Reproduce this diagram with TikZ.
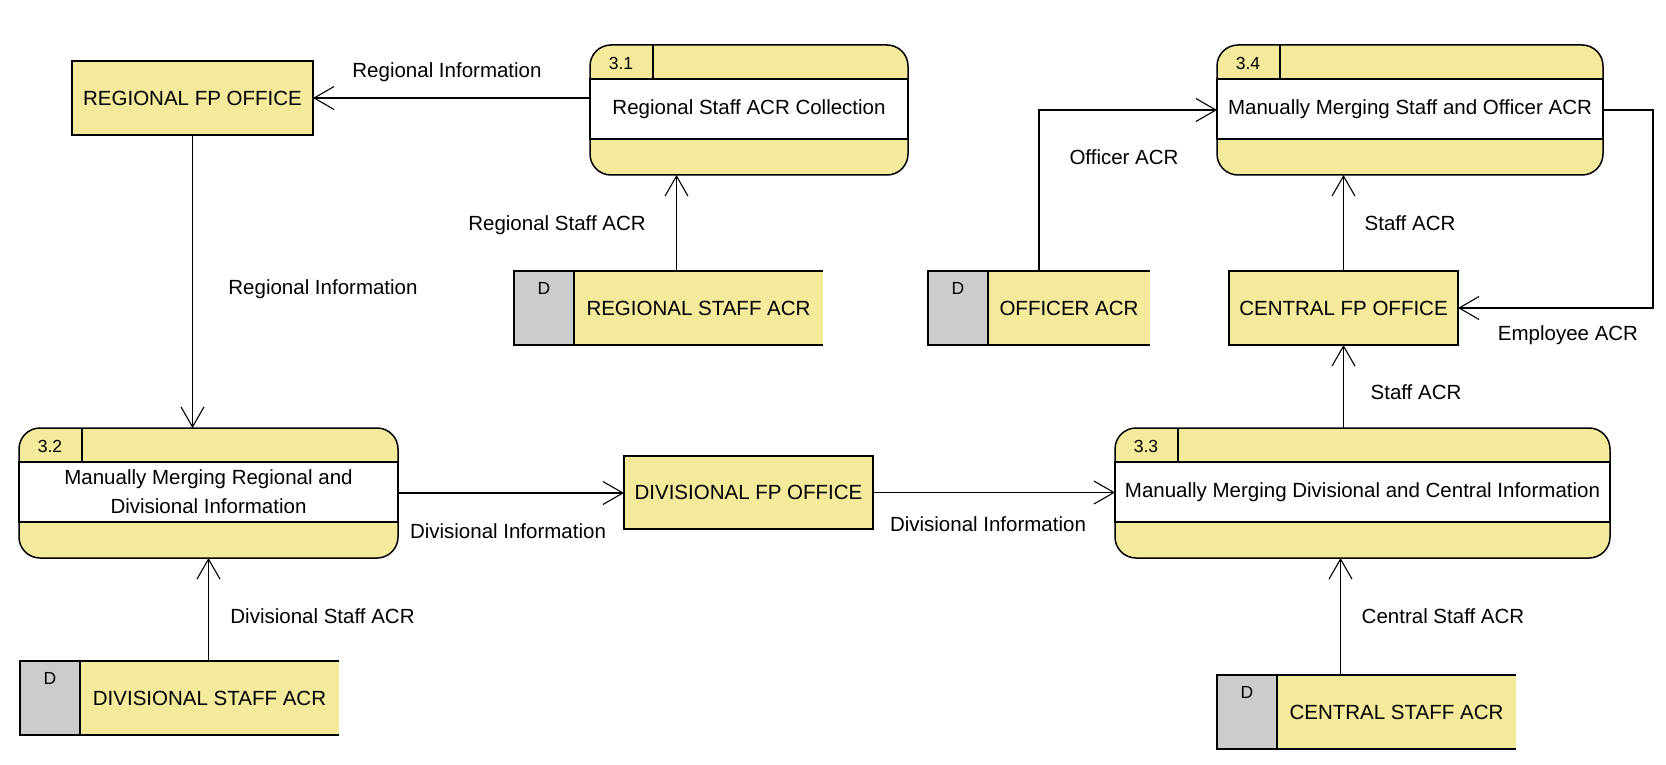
\documentclass[tikz,border=0pt]{standalone}
\usepackage{fontspec}
\setmainfont{Liberation Sans}
\usepackage{tikz}
\usetikzlibrary{calc}
\usetikzlibrary{arrows.meta}
\usetikzlibrary{positioning}
\definecolor{dfdyellow}{RGB}{244,234,155}
\definecolor{dfdgrey}{RGB}{204,204,204}

\begin{document}
\begin{tikzpicture}[x=1pt,y=-1pt]
    \tikzstyle{every node}=[font=\fontsize{20.5}{29}\selectfont,inner sep=0pt,outer sep=0pt]
    \tikzstyle{every path}=[line width=1.5pt]
    \tikzstyle{entity}=[draw=black,fill=dfdyellow,minimum height=74pt]
    \tikzstyle{proc}=[draw=black,fill=dfdyellow,rounded corners=21pt,minimum height=130pt]
    \tikzstyle{store}=[fill=dfdyellow,minimum height=74pt]
    \tikzstyle{flow}=[line width=1.1pt,-{Straight Barb[length=20pt,width=23pt]}]
    \tikzstyle{small}=[font=\fontsize{17.5}{22}\selectfont]

    \useasboundingbox (0,0) rectangle (1666,765);

    \newcommand{\process}[5]{%
      \node[proc,minimum width=#3] (#1) at (#2) {};
      \draw[fill=white] ([yshift=-34pt]#1.north west) rectangle ([yshift=-94pt]#1.north east);
      \draw ([xshift=63pt]#1.north west) -- ([xshift=63pt,yshift=-34pt]#1.north west);
      \node[small] (#1num) at ([xshift=31pt,yshift=-18pt]#1.north west) {#4};
      \node[align=center] (#1txt) at ([yshift=-64pt]#1.north) {#5};}

    \newcommand{\datastore}[4]{%
      \node[store,minimum width=#3] (#1) at (#2) {};
      \fill[dfdgrey] (#1.north west) rectangle ([xshift=60pt]#1.south west);
      \draw (#1.north east) -- (#1.north west) -- (#1.south west) -- (#1.south east);
      \draw ([xshift=60pt]#1.north west) -- ([xshift=60pt]#1.south west);
      \node[small] (#1d) at ([xshift=30pt,yshift=-17pt]#1.north west) {D};
      \node (#1txt) at ($([xshift=60pt]#1.west)!0.5!(#1.east)$) {#4};}

    \node[entity,minimum width=241pt] (regoffice) at (192.5,98) {REGIONAL FP OFFICE};
    \process{p31}{749,110}{318pt}{3.1}{Regional Staff ACR Collection}
    \datastore{regstaff}{668.5,308}{309pt}{REGIONAL STAFF ACR}
    \process{p34}{1410,110}{386pt}{3.4}{Manually Merging Staff and Officer ACR}
    \datastore{officer}{1039,308}{222pt}{OFFICER ACR}
    \node[entity,minimum width=229pt] (centoffice) at (1343.5,308) {CENTRAL FP OFFICE};
    \process{p32}{208.5,493}{379pt}{3.2}{Manually Merging Regional and\\Divisional Information}
    \node[entity,minimum width=249pt,minimum height=73pt] (divoffice) at (748.5,492.5) {DIVISIONAL FP OFFICE};
    \process{p33}{1362.5,493}{495pt}{3.3}{Manually Merging Divisional and Central Information}
    \datastore{divstaff}{179.5,698}{319pt}{DIVISIONAL STAFF ACR}
    \datastore{centstaff}{1366.5,712}{299pt}{CENTRAL STAFF ACR}

    \draw[flow] (p31.west |- regoffice.east) -- (regoffice.east);
    \draw[flow] (regoffice.south) -- (regoffice.south |- p32.north);
    \draw[flow] ([xshift=8pt]regstaff.north) -- ([xshift=8pt]regstaff.north |- p31.south);
    \draw[flow] (officer.north) |- (p34.west);
    \draw[flow] (centoffice.north) -- (centoffice.north |- p34.south);
    \draw[flow] (p34.east) -- ++(50,0) |- (centoffice.east);
    \draw[flow] (centoffice.south |- p33.north) -- (centoffice.south);
    \draw[flow] (p32.east) -- (p32.east -| divoffice.west);
    \draw[flow] (divoffice.east) -- (divoffice.east -| p33.west);
    \draw[flow] (divstaff.north -| p32.south) -- (p32.south);
    \draw[flow] ([xshift=-26pt]centstaff.north) -- ([xshift=-26pt]centstaff.north |- p33.south);

    \node (reginfoa) at (447,72) {Regional Information};
    \node (reginfob) at (323,289) {Regional Information};
    \node (regacr) at (557,225) {Regional Staff ACR};
    \node (offacr) at (1124,157) {Officer ACR};
    \node (staffacra) at (1410,223) {Staff ACR};
    \node (empacr) at (1568,335) {Employee ACR};
    \node (staffacrb) at (1416,392) {Staff ACR};
    \node (divinfoa) at (508,531) {Divisional Information};
    \node (divinfob) at (988,524) {Divisional Information};
    \node (divacr) at (322.5,616) {Divisional Staff ACR};
    \node (centacr) at (1443,616) {Central Staff ACR};
\end{tikzpicture}
\end{document}
